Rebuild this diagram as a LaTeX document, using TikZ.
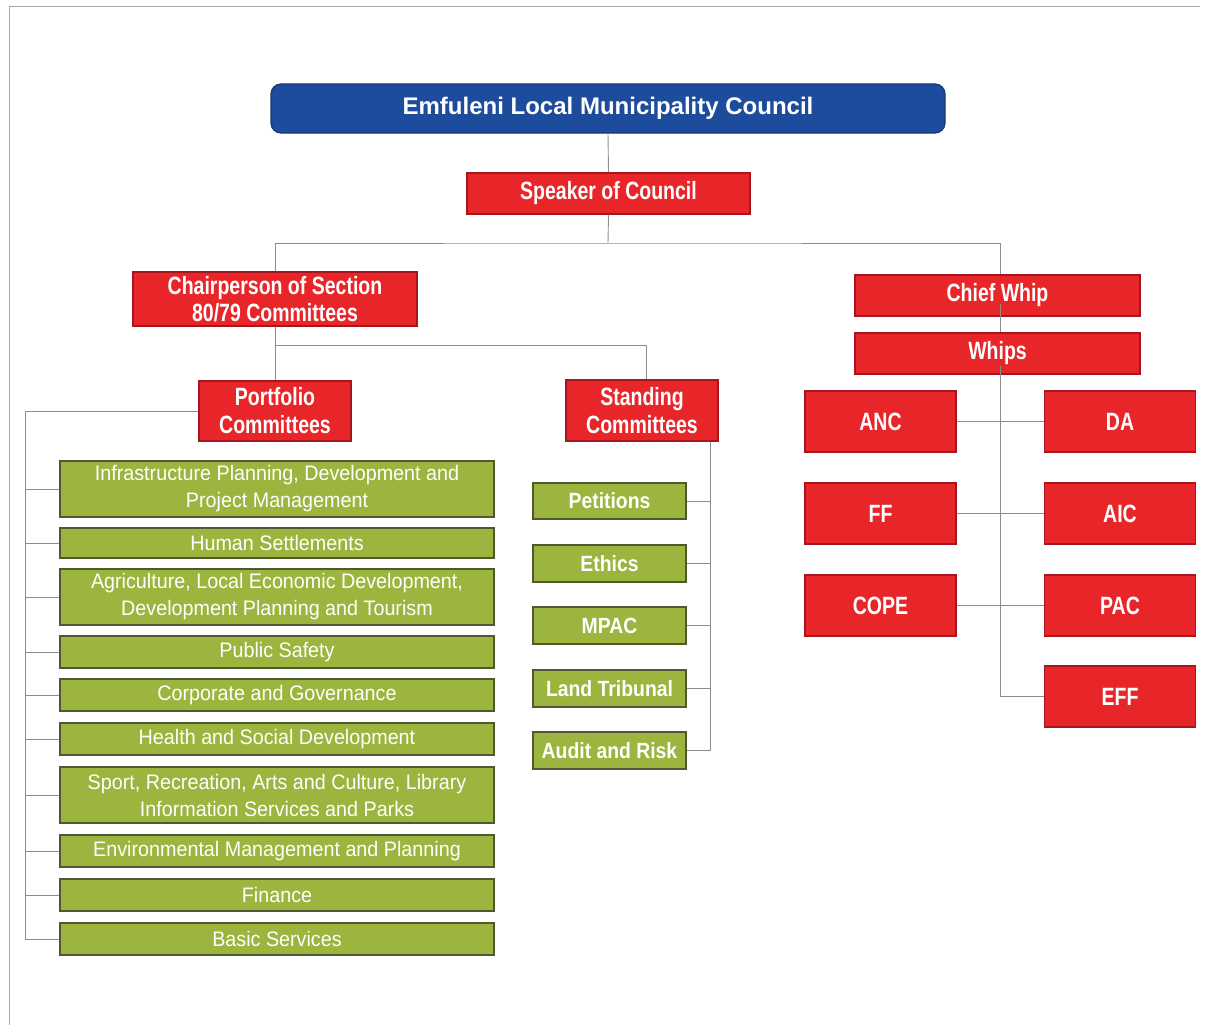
\documentclass[tikz,border=0pt]{standalone}
\usepackage{fontspec}
\setmainfont{Liberation Sans}
\newfontfamily\rednf[FakeStretch=0.78]{Liberation Sans}
\newfontfamily\grnf[FakeStretch=0.94]{Liberation Sans}
\newfontfamily\grbf[FakeStretch=0.88]{Liberation Sans}
\definecolor{redfill}{RGB}{232,38,42}
\definecolor{redline}{RGB}{165,22,30}
\definecolor{bluefill}{RGB}{30,76,156}
\definecolor{blueline}{RGB}{22,56,118}
\definecolor{greenfill}{RGB}{156,181,62}
\definecolor{greenline}{RGB}{80,88,50}
\definecolor{conn}{RGB}{140,140,140}
\definecolor{framec}{RGB}{170,170,170}
\tikzset{
  councilbox/.style={draw=blueline, line width=1.2pt, fill=bluefill, rounded corners=10pt, inner sep=0pt, text=white, align=center, font=\fontsize{24}{26}\selectfont\bfseries},
  redbox/.style={draw=redline, line width=1.2pt, fill=redfill, inner sep=0pt, text=white, align=center, font=\fontsize{25}{27}\selectfont\rednf\bfseries},
  greenbox/.style={draw=greenline, line width=1.2pt, fill=greenfill, inner sep=0pt, text=white, align=center, minimum width=434pt, font=\fontsize{21}{27}\selectfont\grnf},
  stdbox/.style={draw=greenline, line width=1.2pt, fill=greenfill, inner sep=0pt, text=white, align=center, minimum width=153pt, minimum height=36pt, font=\fontsize{22}{26}\selectfont\grbf\bfseries},
  partybox/.style={redbox, minimum width=151pt, minimum height=61pt},
  link/.style={draw=conn, line width=0.9pt}
}
\begin{document}
\begin{tikzpicture}[x=1pt,y=-1pt]
\useasboundingbox (0,0) rectangle (1208,1025);
% frame
\draw[framec, line width=1pt] (9,1025) -- (9,7) -- (1200,7);

% nodes
\node[councilbox, minimum width=674pt, minimum height=49pt] (council) at (608,108.5) {Emfuleni Local Municipality Council};
\node[redbox, minimum width=283pt, minimum height=41pt] (speaker) at (608.5,193.5) {Speaker of Council};
\node[redbox, minimum width=284pt, minimum height=54pt] (chair) at (275,299) {Chairperson of Section\\80/79 Committees};
\node[redbox, minimum width=152pt, minimum height=60pt, font=\fontsize{25}{28}\selectfont\rednf\bfseries] (portfolio) at (275,411) {Portfolio\\Committees};
\node[redbox, minimum width=152pt, minimum height=61pt, font=\fontsize{25}{28}\selectfont\rednf\bfseries] (standing) at (642,410.5) {Standing\\Committees};
\node[redbox, minimum width=285pt, minimum height=41pt] (chiefwhip) at (997.5,295.5) {Chief Whip};
\node[redbox, minimum width=285pt, minimum height=41pt] (whips) at (997.5,353.5) {Whips};

\node[partybox] (anc) at (880.5,421.5) {ANC};
\node[partybox] (da) at (1120,421.5) {DA};
\node[partybox] (ff) at (880.5,513.5) {FF};
\node[partybox] (aic) at (1120,513.5) {AIC};
\node[partybox] (cope) at (880.5,605.5) {COPE};
\node[partybox] (pac) at (1120,605.5) {PAC};
\node[partybox] (eff) at (1120,696.5) {EFF};

\node[greenbox, minimum height=56pt] (g1) at (277,489) {Infrastructure Planning, Development and\\Project Management};
\node[greenbox, minimum height=30pt] (g2) at (277,543) {Human Settlements};
\node[greenbox, minimum height=56pt] (g3) at (277,597) {Agriculture, Local Economic Development,\\Development Planning and Tourism};
\node[greenbox, minimum height=32pt] (g4) at (277,652) {Public Safety};
\node[greenbox, minimum height=32pt] (g5) at (277,695) {Corporate and Governance};
\node[greenbox, minimum height=32pt] (g6) at (277,739) {Health and Social Development};
\node[greenbox, minimum height=56pt] (g7) at (277,795) {Sport, Recreation, Arts and Culture, Library\\Information Services and Parks};
\node[greenbox, minimum height=32pt] (g8) at (277,851) {Environmental Management and Planning};
\node[greenbox, minimum height=32pt] (g9) at (277,895) {Finance};
\node[greenbox, minimum height=32pt] (g10) at (277,939) {Basic Services};

\node[stdbox] (s1) at (609.5,501) {Petitions};
\node[stdbox, minimum height=37pt] (s2) at (609.5,563.5) {Ethics};
\node[stdbox, minimum height=37pt] (s3) at (609.5,625.5) {MPAC};
\node[stdbox, minimum height=37pt] (s4) at (609.5,688.5) {Land Tribunal};
\node[stdbox, minimum height=37pt] (s5) at (609.5,750.5) {Audit and Risk};

% helper coordinates
\coordinate (top) at (608,243);
\coordinate (cbar) at (275,345);
\coordinate (pv) at (25,411);
\coordinate (sv) at (710,441);
\coordinate (wv) at (1000,0);

% connectors
\path[link] (council.south) -- (speaker.north);
\path[link] (speaker.south) -- (top);
\path[link] (chair.north) |- (top) -| (chiefwhip.north -| wv);
\path[link] (chair.south) -- (portfolio.north);
\path[link] (cbar) -| (standing.north -| 646,0);
\path[link] (portfolio.west) -- (pv) |- (g10.west);
\foreach \g in {g1,g2,g3,g4,g5,g6,g7,g8,g9}{
  \path[link] (\g.west) -- (\g.west -| pv);
}
\path[link] (standing.south -| sv) |- (s5.east);
\foreach \s in {s1,s2,s3,s4}{
  \path[link] (\s.east) -- (\s.east -| sv);
}
\path[link] ([yshift=13pt]chiefwhip.south -| wv) -- (whips.north -| wv);
\path[link] ([yshift=9pt]whips.south -| wv) |- (eff.west);
\path[link] (anc.east) -- (da.west);
\path[link] (ff.east) -- (aic.west);
\path[link] (cope.east) -- (pac.west);
\end{tikzpicture}
\end{document}
